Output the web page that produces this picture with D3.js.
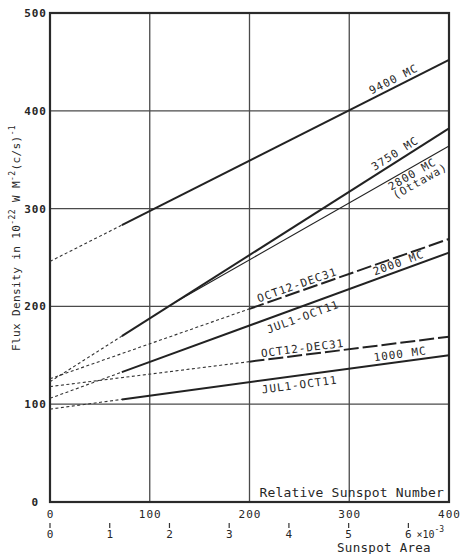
<!DOCTYPE html>
<html>
<head>
<meta charset="utf-8">
<script src="https://cdn.jsdelivr.net/npm/d3@7"></script>
<style>
  body { margin: 0; background: #fff; }
  svg { display: block; }
  text { font-family: "DejaVu Sans Mono", "Liberation Mono", monospace; fill: #262626; }
</style>
</head>
<body>
<svg width="461" height="554"></svg>
<script>
// relative sunspot number ticks and flux density ticks
var xTicks = [0, 100, 200, 300, 400];
var yTicks = [0, 100, 200, 300, 400, 500];
// sunspot area (x10^-3) ticks along the same axis
var areaTicks = [0, 1, 2, 3, 4, 5, 6];
var areaAtMaxNumber = 6.68; // area units matching relative number 400

var seriesNames = ["9400 MC", "3750 MC", "2800 MC (Ottawa)", "2000 MC OCT12-DEC31",
  "2000 MC JUL1-OCT11", "1000 MC OCT12-DEC31", "1000 MC JUL1-OCT11"];
var startX = [0, 0, 125, 0, 0, 0, 0];
var startY = [246, 123, 204, 126, 106, 118, 95];
var endX = [400, 400, 400, 400, 400, 400, 400];
var endY = [452, 382, 364, 269, 255, 169, 150];
var observedFrom = [72, 72, 125, 200, 72, 200, 72];
var lineKind = ["solid", "solid", "thin", "long", "solid", "long", "solid"];

var svg = d3.select("svg"),
  margin = { top: 13, right: 12, bottom: 52, left: 50 },
  width = +svg.attr("width") - margin.left - margin.right,
  height = +svg.attr("height") - margin.top - margin.bottom;

var xScale = d3.scaleLinear().domain([0, 400]).range([0, width]);
var yScale = d3.scaleLinear().domain([0, 500]).range([height, 0]);
var areaScale = d3.scaleLinear().domain([0, areaAtMaxNumber]).range([0, width]);

var g = svg.append("g")
  .attr("transform", "translate(" + margin.left + "," + margin.top + ")");

// grid
g.append("g")
  .selectAll("line")
  .data(xTicks.slice(1, -1))
  .enter().append("line")
  .attr("x1", function (d) { return xScale(d); })
  .attr("x2", function (d) { return xScale(d); })
  .attr("y1", 0).attr("y2", height)
  .attr("stroke", "#4a4a4a").attr("stroke-width", 1.3);

g.append("g")
  .selectAll("line")
  .data(yTicks.slice(1, -1))
  .enter().append("line")
  .attr("y1", function (d) { return yScale(d); })
  .attr("y2", function (d) { return yScale(d); })
  .attr("x1", 0).attr("x2", width)
  .attr("stroke", "#4a4a4a").attr("stroke-width", 1.3);

// frame
g.append("rect")
  .attr("x", 0).attr("y", 0)
  .attr("width", width).attr("height", height)
  .attr("fill", "none").attr("stroke", "#2a2a2a").attr("stroke-width", 2.2);

// y axis ticks labels
var yAxis = d3.axisLeft(yScale).tickValues(yTicks).tickSize(0).tickPadding(3);
g.append("g").call(yAxis)
  .call(function (s) { s.select(".domain").remove(); })
  .selectAll("text")
  .attr("font-size", 11).attr("font-weight", "bold")
  .attr("letter-spacing", 1)
  .attr("font-family", "DejaVu Sans Mono")
  .attr("fill", "#262626")
  .attr("dx", function (d) { return d === 0 ? -8 : 0; });

// x axis (relative sunspot number)
var xAxis = d3.axisBottom(xScale).tickValues(xTicks).tickSize(0).tickPadding(8);
g.append("g").attr("transform", "translate(0," + height + ")").call(xAxis)
  .call(function (s) { s.select(".domain").remove(); })
  .selectAll("text")
  .attr("font-size", 11).attr("letter-spacing", 1)
  .attr("font-family", "DejaVu Sans Mono")
  .attr("fill", "#262626");

// second axis: sunspot area
var area = g.append("g").attr("transform", "translate(0," + height + ")");
area.selectAll("line")
  .data(areaTicks)
  .enter().append("line")
  .attr("x1", function (d) { return areaScale(d); })
  .attr("x2", function (d) { return areaScale(d); })
  .attr("y1", 21).attr("y2", 26)
  .attr("stroke", "#333").attr("stroke-width", 1.2);
area.selectAll("text.area")
  .data(areaTicks)
  .enter().append("text")
  .attr("class", "area")
  .attr("x", function (d) { return areaScale(d); })
  .attr("y", 36)
  .attr("text-anchor", "middle")
  .attr("font-size", 11)
  .text(function (d) { return d; });
area.append("text")
  .attr("x", areaScale(6) + 8).attr("y", 36)
  .attr("font-size", 10)
  .html('\u00d710<tspan dy="-6" font-size="8">-3</tspan>');
area.append("text")
  .attr("x", 334).attr("y", 50)
  .attr("text-anchor", "middle")
  .attr("font-size", 12.5).attr("letter-spacing", 0.3)
  .text("Sunspot Area");

g.append("text")
  .attr("x", xScale(395)).attr("y", height - 5)
  .attr("text-anchor", "end")
  .attr("font-size", 13).attr("letter-spacing", 0.2)
  .text("Relative Sunspot Number");

// y title
svg.append("text")
  .attr("transform", "translate(20,238) rotate(-90)")
  .attr("text-anchor", "middle")
  .attr("font-size", 11).attr("letter-spacing", 0.4)
  .html('Flux Density in 10<tspan dy="-5" font-size="8">-22</tspan><tspan dy="5"> W M</tspan><tspan dy="-5" font-size="8">-2</tspan><tspan dy="5">(c/s)</tspan><tspan dy="-5" font-size="8">-1</tspan>');

// lines
function yAt(i, x) {
  return startY[i] + (endY[i] - startY[i]) * (x - startX[i]) / (endX[i] - startX[i]);
}
var lineGenerator = d3.line()
  .x(function (d) { return xScale(d[0]); })
  .y(function (d) { return yScale(d[1]); });

seriesNames.forEach(function (name, i) {
  var lines = g.append("g").attr("class", "series");
  if (observedFrom[i] > startX[i]) {
    lines.append("path")
      .datum([[startX[i], startY[i]], [observedFrom[i], yAt(i, observedFrom[i])]])
      .attr("fill", "none").attr("stroke", "#333")
      .attr("stroke-width", 1.1)
      .attr("stroke-dasharray", "3,2.5")
      .attr("d", lineGenerator);
  }
  var p = lines.append("path")
    .datum([[observedFrom[i], yAt(i, observedFrom[i])], [endX[i], endY[i]]])
    .attr("fill", "none").attr("stroke", "#222")
    .attr("d", lineGenerator);
  if (lineKind[i] === "thin") p.attr("stroke-width", 1.1);
  else if (lineKind[i] === "long") p.attr("stroke-width", 2).attr("stroke-dasharray", "15,4");
  else p.attr("stroke-width", 2);
});

// labels along the lines: series index, position along line, baseline offset
var labels = [
  { t: "9400 MC", s: 0, x: 348, off: -4 },
  { t: "3750 MC", s: 1, x: 350, off: -4 },
  { t: "2800 MC", s: 2, x: 360, off: 10 },
  { t: "(Ottawa)", s: 2, x: 363, off: 20 },
  { t: "OCT12-DEC31", s: 3, x: 250, off: -3 },
  { t: "2000 MC", s: 4, x: 352, off: -4 },
  { t: "JUL1-OCT11", s: 4, x: 250, off: 14 },
  { t: "OCT12-DEC31", s: 5, x: 254, off: -3 },
  { t: "1000 MC", s: 6, x: 352, off: -4 },
  { t: "JUL1-OCT11", s: 6, x: 249, off: 13 }
];
labels.forEach(function (l) {
  var i = l.s;
  var ang = Math.atan2(yScale(endY[i]) - yScale(startY[i]), xScale(endX[i]) - xScale(startX[i])) * 180 / Math.PI;
  g.append("text")
    .attr("transform", "translate(" + xScale(l.x) + "," + yScale(yAt(i, l.x)) + ") rotate(" + ang + ")")
    .attr("y", l.off)
    .attr("text-anchor", "middle")
    .attr("font-size", 11).attr("letter-spacing", 1)
    .text(l.t);
});
</script>
</body>
</html>
